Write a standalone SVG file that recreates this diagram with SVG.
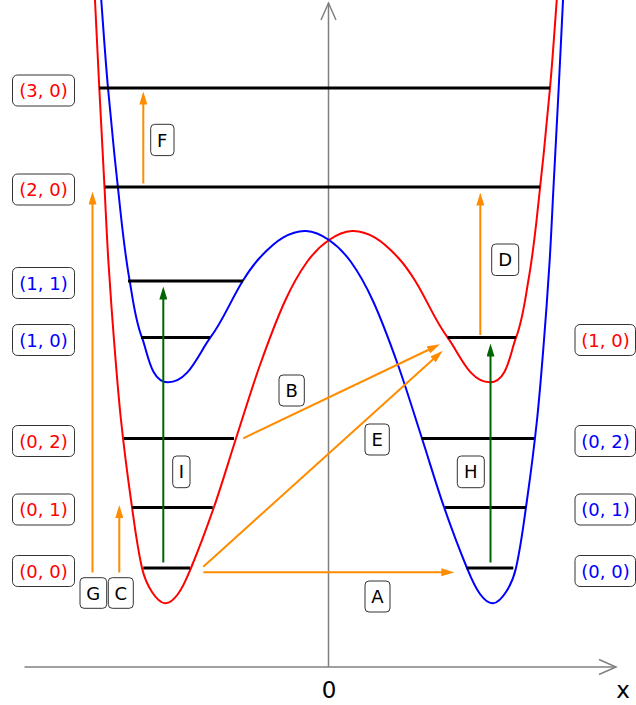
<svg xmlns="http://www.w3.org/2000/svg" width="636" height="705" viewBox="0 0 636 705">
<style>
.ax{stroke:#808080;stroke-width:1.5;fill:none}
.lv{stroke:#000;stroke-width:3}
.box{fill:#fff;stroke:#333;stroke-width:1}
.t{font-family:"DejaVu Sans",sans-serif;font-size:18px;text-anchor:middle}
.r{fill:#ff0000}.b{fill:#0000ff}.k{fill:#000}
.ao{stroke:#ff8c00;stroke-width:2;fill:none;marker-end:url(#ho)}
.ag{stroke:#006400;stroke-width:2;fill:none;marker-end:url(#hg)}
</style>
<defs>
<marker id="ho" viewBox="0 0 13 8" refX="5" refY="4" markerWidth="13" markerHeight="8" markerUnits="userSpaceOnUse" orient="auto"><path d="M0,0 L13,4 L0,8 z" fill="#ff8c00"/></marker>
<marker id="hg" viewBox="0 0 13 8" refX="5" refY="4" markerWidth="13" markerHeight="8" markerUnits="userSpaceOnUse" orient="auto"><path d="M0,0 L13,4 L0,8 z" fill="#006400"/></marker>
<path id="pot" fill="none" stroke-width="2" d="M94.5,-10 C96.1,22.67 97.64,55.33 99.3,88 C100.98,121.01 102.77,154 104.5,187 C105.78,211.34 106.79,235.68 108.3,260 C109.96,286.68 111.89,313.35 114,340 C116.12,366.69 118.17,393.38 121,420 C123.84,446.72 127.23,473.4 131,500 C134.23,522.73 136.89,545.62 142,568 C143.93,576.45 147.27,584.74 152,592 C155.13,596.81 159.28,602.86 165,603.3 C170.31,603.71 174.84,598.29 178,594 C183.75,586.2 187.3,576.95 191,568 C199.31,547.92 206.87,527.53 214,507 C221.87,484.35 228.61,461.31 236,438.5 C243.94,413.99 251.35,389.28 260,365 C267.69,343.43 275.49,321.83 285,301 C291.2,287.42 298.27,274.11 307,262 C313.07,253.59 320.46,245.88 329,240 C335.78,235.33 343.78,231.43 352,231 C359.97,230.58 368.09,233.62 375,237.6 C383.79,242.66 391.1,250.07 398,257.5 C404.62,264.63 410.18,272.73 415.3,281 C426.77,299.5 434.78,320.18 447.7,337.7 C459.86,354.19 469.51,382.3 490,382.3 C507.21,382.3 509.91,353.8 516,337.7 C522.84,319.61 524.97,300.05 528.3,281 C531.84,260.79 534.31,240.39 536.6,220 C541.54,176.05 546,132.05 550,88 C552.96,55.37 555,22.67 557.5,-10"/>
</defs>
<g id="axes">
<line class="ax" x1="24.5" y1="667" x2="616" y2="667"/>
<path class="ax" d="M599,659.5 L616,667 L599,674.5"/>
<line class="ax" x1="328.5" y1="667" x2="328.5" y2="3"/>
<path class="ax" d="M321,20 L328.5,3 L336,20"/>
<text class="t k" x="329" y="698" style="font-size:23px">0</text>
<text class="t k" x="623" y="698" style="font-size:23px">x</text>
</g>
<g id="curves">
<use href="#pot" stroke="#ff0000"/>
<use href="#pot" stroke="#0000ff" transform="translate(658,0) scale(-1,1)"/>
</g>
<g id="levels">
<line class="lv" x1="99" y1="88" x2="550" y2="88"/>
<line class="lv" x1="105" y1="187" x2="540" y2="187"/>
<line class="lv" x1="128" y1="281" x2="243" y2="281"/>
<line class="lv" x1="141" y1="337.5" x2="210" y2="337.5"/>
<line class="lv" x1="447.7" y1="337.5" x2="516" y2="337.5"/>
<line class="lv" x1="124" y1="438.5" x2="234" y2="438.5"/>
<line class="lv" x1="132.3" y1="507.5" x2="212.7" y2="507.5"/>
<line class="lv" x1="143.3" y1="568" x2="190" y2="568"/>
<line class="lv" x1="421.7" y1="438.5" x2="534" y2="438.5"/>
<line class="lv" x1="445" y1="507.5" x2="526" y2="507.5"/>
<line class="lv" x1="466.7" y1="568" x2="513.3" y2="568"/>
</g>
<g id="connectors">
<line class="ao" x1="143.3" y1="183.5" x2="143.3" y2="99.5"/>
<line class="ao" x1="92.5" y1="572.5" x2="92.5" y2="199.5"/>
<line class="ao" x1="119.3" y1="572.5" x2="119.3" y2="513"/>
<line class="ao" x1="480.3" y1="335" x2="480.3" y2="200.5"/>
<line class="ao" x1="203.3" y1="572.3" x2="446.3" y2="572.3"/>
<line class="ao" x1="243.3" y1="438.3" x2="432.8" y2="347.75"/>
<line class="ao" x1="203.3" y1="566.7" x2="436.76" y2="356.06"/>
<line class="ag" x1="163.3" y1="562.5" x2="163.3" y2="294.5"/>
<line class="ag" x1="490.5" y1="562.5" x2="490.5" y2="351.5"/>
</g>
<g id="state-30"><rect class="box" x="12.5" y="75" width="62" height="31" rx="5"/><text class="t r" x="43.5" y="97">(3, 0)</text></g>
<g id="state-20"><rect class="box" x="12.5" y="174" width="62" height="31" rx="5"/><text class="t r" x="43.5" y="196">(2, 0)</text></g>
<g id="state-11"><rect class="box" x="12.5" y="267.5" width="62" height="31" rx="5"/><text class="t b" x="43.5" y="289.5">(1, 1)</text></g>
<g id="state-10-left"><rect class="box" x="12.5" y="324.5" width="62" height="31" rx="5"/><text class="t b" x="43.5" y="346.5">(1, 0)</text></g>
<g id="state-02-left"><rect class="box" x="12.5" y="425.5" width="62" height="31" rx="5"/><text class="t r" x="43.5" y="447.5">(0, 2)</text></g>
<g id="state-01-left"><rect class="box" x="12.5" y="494" width="62" height="31" rx="5"/><text class="t r" x="43.5" y="516">(0, 1)</text></g>
<g id="state-00-left"><rect class="box" x="12.5" y="555.5" width="62" height="31" rx="5"/><text class="t r" x="43.5" y="577.5">(0, 0)</text></g>
<g id="state-10-right"><rect class="box" x="575" y="324.5" width="60.5" height="31" rx="5"/><text class="t r" x="605.5" y="346.5">(1, 0)</text></g>
<g id="state-02-right"><rect class="box" x="575" y="425.5" width="60.5" height="31" rx="5"/><text class="t b" x="605.5" y="447.5">(0, 2)</text></g>
<g id="state-01-right"><rect class="box" x="575" y="494" width="60.5" height="31" rx="5"/><text class="t b" x="605.5" y="516">(0, 1)</text></g>
<g id="state-00-right"><rect class="box" x="575" y="555.5" width="60.5" height="31" rx="5"/><text class="t b" x="605.5" y="577.5">(0, 0)</text></g>
<g id="label-F"><rect class="box" x="150.7" y="124.3" width="23.3" height="31.3" rx="4"/><text class="t k" x="162.3" y="146.5">F</text></g>
<g id="label-D"><rect class="box" x="491.7" y="244" width="27" height="31.5" rx="4"/><text class="t k" x="505.2" y="266.3">D</text></g>
<g id="label-B"><rect class="box" x="279" y="375" width="25.3" height="31" rx="4"/><text class="t k" x="291.7" y="397">B</text></g>
<g id="label-E"><rect class="box" x="365" y="424" width="24.3" height="31" rx="4"/><text class="t k" x="377.2" y="446">E</text></g>
<g id="label-I"><rect class="box" x="172.7" y="456" width="17.3" height="31.7" rx="4"/><text class="t k" x="181.3" y="478.3">I</text></g>
<g id="label-H"><rect class="box" x="457.3" y="456" width="27" height="31.7" rx="4"/><text class="t k" x="470.8" y="478.3">H</text></g>
<g id="label-G"><rect class="box" x="80" y="577.7" width="26.7" height="30.6" rx="4"/><text class="t k" x="93.3" y="599.5">G</text></g>
<g id="label-C"><rect class="box" x="108.3" y="577.7" width="25" height="30.6" rx="4"/><text class="t k" x="120.8" y="599.5">C</text></g>
<g id="label-A"><rect class="box" x="365" y="581" width="25" height="31" rx="4"/><text class="t k" x="377.5" y="603">A</text></g>
</svg>
